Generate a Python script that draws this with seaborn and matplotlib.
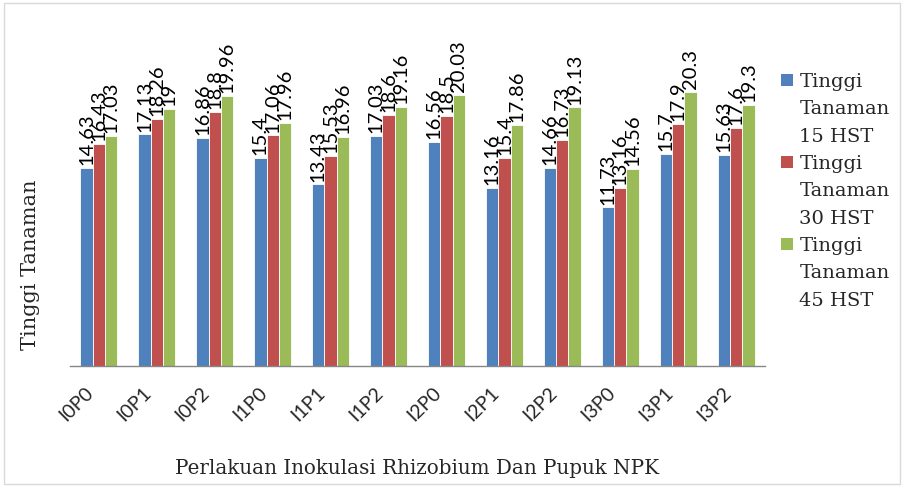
import matplotlib
matplotlib.use("Agg")
import matplotlib.pyplot as plt
import matplotlib.transforms as mtrans
import seaborn as sns
import pandas as pd
from matplotlib.patches import Rectangle, Patch

categories = ["I0P0", "I0P1", "I0P2", "I1P0", "I1P1", "I1P2",
              "I2P0", "I2P1", "I2P2", "I3P0", "I3P1", "I3P2"]
hst15 = [14.63, 17.13, 16.86, 15.4, 13.43, 17.03, 16.56, 13.16, 14.66, 11.73, 15.7, 15.63]
hst30 = [16.43, 18.26, 18.8, 17.06, 15.53, 18.6, 18.5, 15.4, 16.73, 13.16, 17.9, 17.6]
hst45 = [17.03, 19, 19.96, 17.96, 16.96, 19.16, 20.03, 17.86, 19.13, 14.56, 20.3, 19.3]
series_names = ["Tinggi Tanaman 15 HST", "Tinggi Tanaman 30 HST", "Tinggi Tanaman 45 HST"]
legend_lines = [["Tinggi", "Tanaman", "15 HST"],
                ["Tinggi", "Tanaman", "30 HST"],
                ["Tinggi", "Tanaman", "45 HST"]]
colors = ["#4F81BD", "#C0504D", "#9BBB59"]

rows = []
for name, vals in zip(series_names, [hst15, hst30, hst45]):
    for c, v in zip(categories, vals):
        rows.append({"Perlakuan": c, "Seri": name, "Tinggi": v})
df = pd.DataFrame(rows)

sns.set_style("white")
serif = ["DejaVu Serif"]
sans = ["Lato", "DejaVu Sans"]

fig = plt.figure(figsize=(9.04, 4.87), dpi=100)
ax = fig.add_axes([70 / 904, 1 - 366 / 487, 695 / 904, (366 - 28) / 487])

sns.barplot(data=df, x="Perlakuan", y="Tinggi", hue="Seri", palette=colors,
            saturation=1, width=0.64, ax=ax, edgecolor="white", linewidth=0.6,
            errorbar=None, legend=False)

for cont in ax.containers:
    labels = ["%g" % b.get_height() for b in cont]
    ax.bar_label(cont, labels=labels, rotation=90, padding=2, fontsize=14.5,
                 family=sans, color="#000000")

ax.set_ylim(0, 25)
ax.set_xlim(-0.5, len(categories) - 0.5)
ax.set_yticks([])
for s in ["top", "right", "left"]:
    ax.spines[s].set_visible(False)
ax.spines["bottom"].set_color("#868686")
ax.spines["bottom"].set_linewidth(1)
ax.tick_params(axis="x", length=0, pad=13)
shift = mtrans.ScaledTranslation(-14 / 100, 0, fig.dpi_scale_trans)
for t in ax.get_xticklabels():
    t.set_rotation(45)
    t.set_ha("right")
    t.set_rotation_mode("anchor")
    t.set_fontsize(14)
    t.set_family(sans)
    t.set_transform(t.get_transform() + shift)

ax.set_xlabel("Perlakuan Inokulasi Rhizobium Dan Pupuk NPK", family=serif, fontsize=14.3, labelpad=25)
ax.set_ylabel("Tinggi Tanaman", family=serif, fontsize=15)
ax.yaxis.set_label_coords(-0.043, 0.30)

handles, labels = [], []
for col, lines in zip(colors, legend_lines):
    for i, line in enumerate(lines):
        if i == 0:
            handles.append(Patch(facecolor=col, edgecolor="none"))
        else:
            handles.append(Patch(facecolor="none", edgecolor="none"))
        labels.append(line)

leg = ax.legend(handles, labels, loc="upper left",
                bbox_to_anchor=((781 - 70) / 695, (366 - 73) / 338), frameon=False,
                prop={"family": serif, "size": 14}, handlelength=0.6, handleheight=0.6,
                handletextpad=0.35, labelspacing=0.48, borderaxespad=0, borderpad=0)

fig.patches.append(Rectangle((0.004, 0.006), 0.992, 0.988, transform=fig.transFigure,
                             fill=False, edgecolor="#D9D9D9", linewidth=1))

fig.savefig("out.png", dpi=100)
